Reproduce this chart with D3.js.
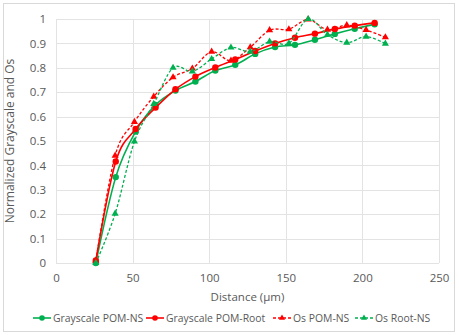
<!DOCTYPE html>
<html>
<head>
<meta charset="utf-8">
<script src="https://cdn.jsdelivr.net/npm/d3@7"></script>
<style>
  body { margin: 0; background: #fff; }
  text { font-family: "Open Sans", "Noto Sans", sans-serif; fill: #595959; }
</style>
</head>
<body>
<div id="chart"></div>
<script>
// distances (µm)
const grayDist = [26, 39, 52, 65, 78, 91, 104, 117, 130, 143, 156, 169, 182, 195, 208]
const osDist = [26, 38.6, 51.2, 63.8, 76.4, 89, 101.6, 114.2, 126.8, 139.4, 152, 164.6, 177.2, 189.8, 202.4, 215]

const grayPomNs = [0, 0.352, 0.539, 0.648, 0.707, 0.744, 0.789, 0.812, 0.857, 0.885, 0.894, 0.915, 0.939, 0.96, 0.978]
const grayPomRoot = [0.01, 0.416, 0.549, 0.637, 0.712, 0.764, 0.801, 0.834, 0.869, 0.90, 0.923, 0.94, 0.959, 0.973, 0.984]
const osPomNs = [0.01, 0.44, 0.578, 0.682, 0.761, 0.797, 0.866, 0.829, 0.884, 0.954, 0.958, 0.998, 0.956, 0.975, 0.955, 0.925]
const osRootNs = [0, 0.202, 0.498, 0.652, 0.80, 0.785, 0.836, 0.883, 0.866, 0.907, 0.90, 1.0, 0.936, 0.903, 0.928, 0.899]

const xTicks = [0, 50, 100, 150, 200, 250]
const yTicks = [0, 0.1, 0.2, 0.3, 0.4, 0.5, 0.6, 0.7, 0.8, 0.9, 1]

const series = [
    { name: 'Grayscale POM-NS', x: grayDist, y: grayPomNs, color: '#00b050', dash: null, marker: 'circle' },
    { name: 'Grayscale POM-Root', x: grayDist, y: grayPomRoot, color: '#ff0000', dash: null, marker: 'circle' },
    { name: 'Os POM-NS', x: osDist, y: osPomNs, color: '#ff0000', dash: '3,2', marker: 'triangle' },
    { name: 'Os Root-NS', x: osDist, y: osRootNs, color: '#00b050', dash: '3,2', marker: 'triangle' }
]

const width = 459, height = 335
const margin = { top: 19, right: 20, bottom: 71, left: 56 }

const svg = d3.select('#chart').append('svg')
    .attr('width', width)
    .attr('height', height)

// chart border
svg.append('rect')
    .attr('x', 3.5).attr('y', 3.5)
    .attr('width', 451).attr('height', 328)
    .attr('fill', 'none')
    .attr('stroke', '#d9d9d9')

const xScale = d3.scaleLinear().domain([0, 250]).range([margin.left, width - margin.right])
const yScale = d3.scaleLinear().domain([0, 1]).range([height - margin.bottom - 1, margin.top])

// gridlines
svg.append('g').selectAll('line')
    .data(yTicks)
    .join('line')
    .attr('x1', xScale(0)).attr('x2', xScale(250))
    .attr('y1', d => Math.round(yScale(d)) + 0.5)
    .attr('y2', d => Math.round(yScale(d)) + 0.5)
    .attr('stroke', '#e3e3e3')

svg.append('g').selectAll('line')
    .data(xTicks)
    .join('line')
    .attr('x1', d => Math.round(xScale(d)) + 0.5)
    .attr('x2', d => Math.round(xScale(d)) + 0.5)
    .attr('y1', yScale(0)).attr('y2', yScale(1))
    .attr('stroke', '#e3e3e3')

// axes labels
const xAxis = d3.axisBottom(xScale).tickValues(xTicks).tickSize(0).tickPadding(11)
svg.append('g')
    .attr('transform', `translate(0,${yScale(0)})`)
    .call(xAxis)
    .call(g => g.select('.domain').remove())
    .selectAll('text')
    .attr('font-size', 11.5)
    .attr('font-family', '"Open Sans", sans-serif')
    .attr('fill', '#595959')

const yAxis = d3.axisLeft(yScale).tickValues(yTicks).tickSize(0).tickPadding(10)
    .tickFormat(d => d3.format('~g')(d))
svg.append('g')
    .attr('transform', `translate(${xScale(0)},0)`)
    .call(yAxis)
    .call(g => g.select('.domain').remove())
    .selectAll('text')
    .attr('font-size', 11.5)
    .attr('font-family', '"Open Sans", sans-serif')
    .attr('fill', '#595959')

svg.append('text')
    .attr('x', (xScale(0) + xScale(250)) / 2)
    .attr('y', 301)
    .attr('text-anchor', 'middle')
    .attr('font-size', 11.5)
    .text('Distance (µm)')

svg.append('text')
    .attr('transform', `translate(14,${(yScale(0) + yScale(1)) / 2}) rotate(-90)`)
    .attr('text-anchor', 'middle')
    .attr('font-size', 12)
    .text('Normalized Grayscale and Os')

const triangle = d3.symbol().type(d3.symbolTriangle).size(22)

const line = d3.line()
    .x(d => xScale(d[0]))
    .y(d => yScale(d[1]))
    .curve(d3.curveCatmullRom.alpha(0))

const plot = svg.append('g')

series.forEach(s => {
    const pts = s.x.map((x, i) => [x, s.y[i]])
    plot.append('path')
        .datum(pts)
        .attr('d', line)
        .attr('fill', 'none')
        .attr('stroke', s.color)
        .attr('stroke-width', s.dash ? 1.3 : 1.6)
        .attr('stroke-dasharray', s.dash)

    if (s.marker === 'circle') {
        plot.append('g').selectAll('circle')
            .data(pts)
            .join('circle')
            .attr('cx', d => xScale(d[0]))
            .attr('cy', d => yScale(d[1]))
            .attr('r', 3.2)
            .attr('fill', s.color)
    } else {
        plot.append('g').selectAll('path')
            .data(pts)
            .join('path')
            .attr('d', triangle)
            .attr('transform', d => `translate(${xScale(d[0])},${yScale(d[1])})`)
            .attr('fill', s.color)
    }
})

// legend
const legendX = [33, 146, 273, 355]
const legend = svg.append('g').attr('transform', 'translate(0,318)')
series.forEach((s, i) => {
    const g = legend.append('g').attr('transform', `translate(${legendX[i]},0)`)
    g.append('line')
        .attr('x1', 0).attr('x2', 18)
        .attr('stroke', s.color)
        .attr('stroke-width', s.dash ? 1.3 : 1.6)
        .attr('stroke-dasharray', s.dash)
    if (s.marker === 'circle') {
        g.append('circle').attr('cx', 9).attr('r', 2.8).attr('fill', s.color)
    } else {
        g.append('path').attr('d', d3.symbol().type(d3.symbolTriangle).size(16))
            .attr('transform', 'translate(9,0)').attr('fill', s.color)
    }
    g.append('text')
        .attr('x', 20)
        .attr('y', 4)
        .attr('font-size', 10.4)
        .text(s.name)
})
</script>
</body>
</html>
